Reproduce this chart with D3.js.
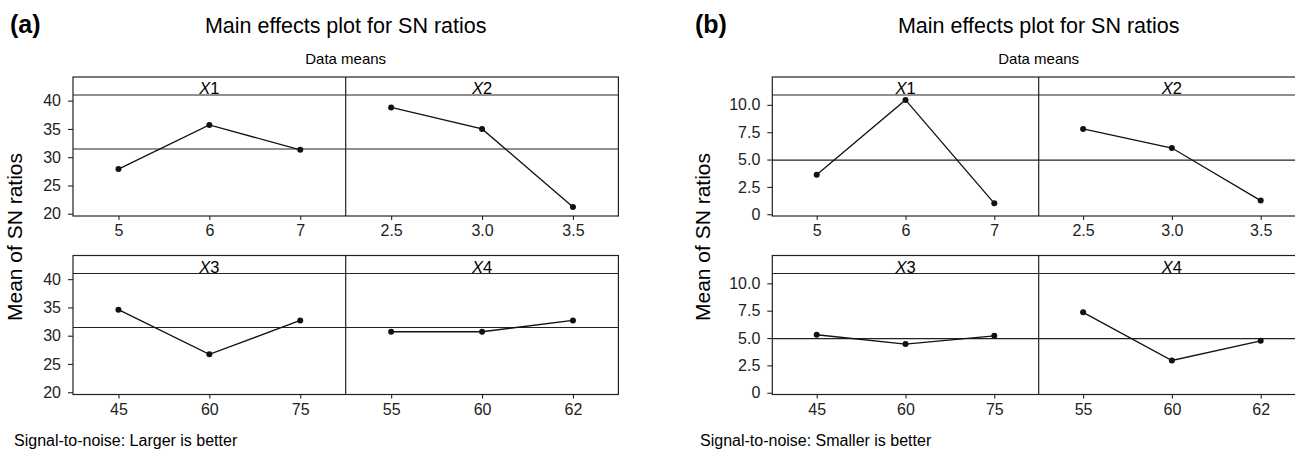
<!DOCTYPE html>
<html>
<head>
<meta charset="utf-8">
<script src="https://cdn.jsdelivr.net/npm/d3@7"></script>
<style>
  body { margin: 0; background: #fff; }
  svg { display: block; font-family: "Liberation Sans", Arial, sans-serif; }
  .frame { stroke: #222; stroke-width: 1.2; fill: none; }
  .axis path, .axis line { stroke: #222; stroke-width: 1.1; }
  .axis text { fill: #222; font-size: 16px; }
  .effect { stroke: #111; stroke-width: 1.3; fill: none; }
</style>
</head>
<body>
<svg id="chart" width="1295" height="450"></svg>
<script>
// factor levels
const factors = ["X1", "X2", "X3", "X4"];
const levelsX1 = ["5", "6", "7"];
const levelsX2 = ["2.5", "3.0", "3.5"];
const levelsX3 = ["45", "60", "75"];
const levelsX4 = ["55", "60", "62"];

// (a) larger is better
const largerX1 = [27.9, 35.7, 31.3];
const largerX2 = [38.8, 35.0, 21.2];
const largerX3 = [34.6, 26.7, 32.7];
const largerX4 = [30.7, 30.7, 32.7];
const largerMean = 31.45;
const largerTicks = [20, 25, 30, 35, 40];

// (b) smaller is better
const smallerX1 = [3.6, 10.45, 1.0];
const smallerX2 = [7.8, 6.05, 1.25];
const smallerX3 = [5.3, 4.45, 5.2];
const smallerX4 = [7.35, 2.95, 4.75];
const smallerMean = 4.95;
const smallerTicks = [0, 2.5, 5, 7.5, 10];

const svg = d3.select("#chart");

const rowTop = [77, 255.5];
const stripH = 18;
const plotH = 121;

function figure(cfg) {
    const g = svg.append("g");
    const levels = [levelsX1, levelsX2, levelsX3, levelsX4];

    const y0 = d3.scaleLinear().domain(cfg.yDomain);

    // label, title, subtitle
    g.append("text")
        .attr("x", cfg.tagX).attr("y", 33)
        .style("font-size", "25px").style("font-weight", "bold")
        .text(cfg.tag);

    const cx = cfg.left + cfg.panelW;
    g.append("text")
        .attr("x", cx).attr("y", 33)
        .attr("text-anchor", "middle")
        .style("font-size", "21.5px")
        .text("Main effects plot for SN ratios");
    g.append("text")
        .attr("x", cx).attr("y", 64)
        .attr("text-anchor", "middle")
        .style("font-size", "15px")
        .text("Data means");

    g.append("text")
        .attr("transform", "translate(" + cfg.ylabX + ",237) rotate(-90)")
        .attr("text-anchor", "middle")
        .style("font-size", "21px")
        .text("Mean of SN ratios");

    g.append("text")
        .attr("x", cfg.footX).attr("y", 446)
        .style("font-size", "16px")
        .text(cfg.footer);

    for (let r = 0; r < 2; r++) {
        const top = rowTop[r];
        const pTop = top + stripH;
        const pBot = pTop + plotH;
        const y = y0.copy().range([pBot, pTop]);
        const right = cfg.left + 2 * cfg.panelW;

        // mean line across the row
        g.append("line").attr("class", "frame")
            .attr("x1", cfg.left).attr("x2", right)
            .attr("y1", y(cfg.mean)).attr("y2", y(cfg.mean));

        for (let c = 0; c < 2; c++) {
            const k = r * 2 + c;
            const x0 = cfg.left + c * cfg.panelW;
            const x = d3.scalePoint()
                .domain(levels[k])
                .range([x0, x0 + cfg.panelW])
                .padding(0.5);

            g.append("text")
                .attr("x", x0 + cfg.panelW / 2).attr("y", pTop - 1)
                .attr("text-anchor", "middle")
                .style("font-size", "16.5px")
                .call(t => {
                    t.append("tspan").style("font-style", "italic").text(factors[k].slice(0, 1));
                    t.append("tspan").text(factors[k].slice(1));
                });

            const xAxis = d3.axisBottom(x).tickSize(4).tickPadding(5);
            g.append("g")
                .attr("class", "axis")
                .attr("transform", "translate(0," + pBot + ")")
                .call(xAxis)
                .call(a => a.select(".domain").remove());

            const pts = levels[k].map((l, i) => ({ l: l, v: cfg.values[k][i] }));
            g.append("path")
                .attr("class", "effect")
                .attr("d", d3.line().x(d => x(d.l)).y(d => y(d.v))(pts));
            g.selectAll(null)
                .data(pts)
                .enter().append("circle")
                .attr("cx", d => x(d.l))
                .attr("cy", d => y(d.v))
                .attr("r", 3)
                .attr("fill", "#111");
        }

        const yAxis = d3.axisLeft(y)
            .tickValues(cfg.ticks)
            .tickFormat(cfg.fmt)
            .tickSize(5).tickPadding(7);
        g.append("g")
            .attr("class", "axis")
            .attr("transform", "translate(" + cfg.left + ",0)")
            .call(yAxis)
            .call(a => a.select(".domain").remove());

        // panel frame
        g.append("rect").attr("class", "frame")
            .attr("x", cfg.left).attr("y", top)
            .attr("width", 2 * cfg.panelW).attr("height", stripH + plotH);
        g.append("line").attr("class", "frame")
            .attr("x1", cfg.left).attr("x2", right)
            .attr("y1", pTop).attr("y2", pTop);
        g.append("line").attr("class", "frame")
            .attr("x1", cfg.left + cfg.panelW).attr("x2", cfg.left + cfg.panelW)
            .attr("y1", top).attr("y2", pBot);
    }
}

figure({
    tag: "(a)", tagX: 10,
    left: 73, panelW: 272.7,
    ylabX: 22,
    yDomain: [19.6, 41.0],
    ticks: largerTicks,
    fmt: d3.format("d"),
    mean: largerMean,
    values: [largerX1, largerX2, largerX3, largerX4],
    footer: "Signal-to-noise: Larger is better", footX: 14
});

figure({
    tag: "(b)", tagX: 695,
    left: 772.3, panelW: 266.4,
    ylabX: 710,
    yDomain: [-0.16, 10.9],
    ticks: smallerTicks,
    fmt: d => d === 0 ? "0" : d3.format(".1f")(d),
    mean: smallerMean,
    values: [smallerX1, smallerX2, smallerX3, smallerX4],
    footer: "Signal-to-noise: Smaller is better", footX: 700
});
</script>
</body>
</html>
